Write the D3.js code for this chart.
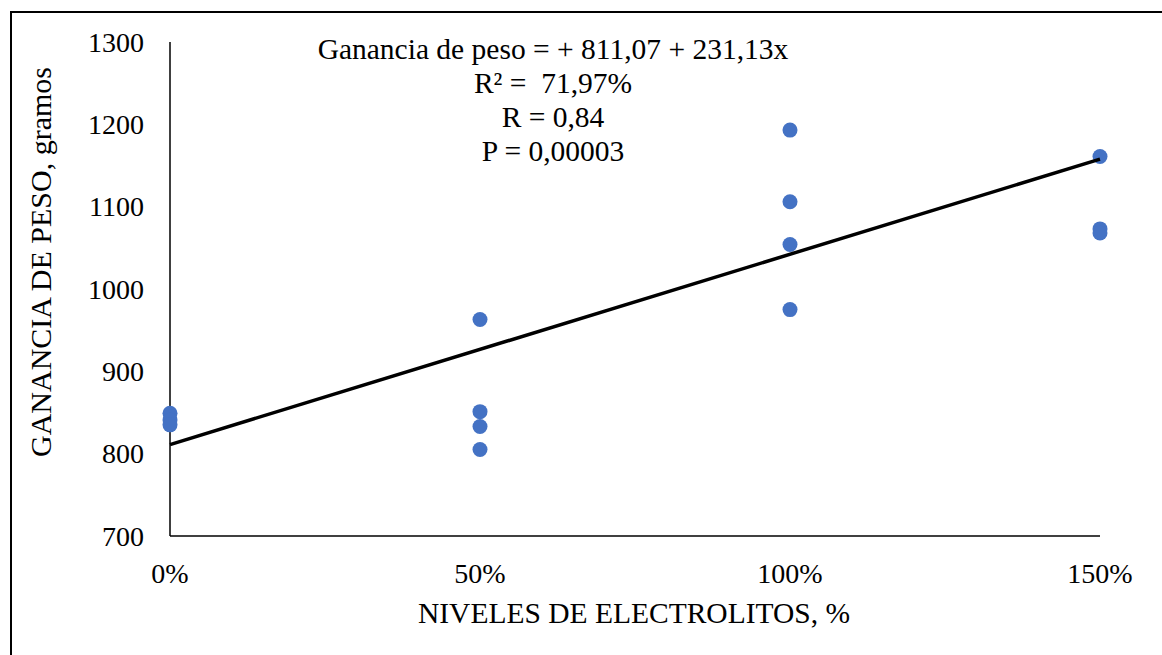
<!DOCTYPE html>
<html>
<head>
<meta charset="utf-8">
<script src="https://cdn.jsdelivr.net/npm/d3@7"></script>
<style>
  body { margin: 0; background: #fff; }
  text { font-family: "Liberation Serif", "Times New Roman", serif; fill: #000; white-space: pre; }
</style>
</head>
<body>
<svg id="chart"></svg>
<script>
// Niveles de electrolitos (fracción) y ganancia de peso (g)
const nivel = [0, 0, 0, 0.5, 0.5, 0.5, 0.5, 1, 1, 1, 1, 1.5, 1.5, 1.5];
const ganancia = [849, 841, 835, 963, 851, 833, 805, 1193, 1106, 1054, 975, 1161, 1073, 1068];

const xTicks = [0, 0.5, 1, 1.5];
const yTicks = [700, 800, 900, 1000, 1100, 1200, 1300];

// recta de regresión
const intercepto = 811.07;
const pendiente = 231.13;

const anotacion = [
  "Ganancia de peso = + 811,07 + 231,13x",
  "R² =  71,97%",
  "R = 0,84",
  "P = 0,00003"
];

const width = 1162;
const height = 655;

const svg = d3.select("#chart")
    .attr("width", width)
    .attr("height", height);

// marco
svg.append("path")
    .attr("d", `M11,${height} V12 H${width}`)
    .attr("fill", "none")
    .attr("stroke", "#000")
    .attr("stroke-width", 2);

const x = d3.scaleLinear().domain([0, 1.5]).range([170, 1100]);
const y = d3.scaleLinear().domain([700, 1300]).range([536, 42]);

// ejes
svg.append("line")
    .attr("x1", x(0)).attr("x2", x(0))
    .attr("y1", y(700)).attr("y2", y(1300))
    .attr("stroke", "#000").attr("stroke-width", 1.5);

svg.append("line")
    .attr("x1", x(0)).attr("x2", x(1.5))
    .attr("y1", y(700)).attr("y2", y(700))
    .attr("stroke", "#000").attr("stroke-width", 1.5);

svg.selectAll(".ytick")
    .data(yTicks)
    .enter()
    .append("text")
    .attr("class", "ytick")
    .attr("x", 144)
    .attr("y", d => y(d))
    .attr("dy", "0.35em")
    .attr("text-anchor", "end")
    .style("font-size", "28px")
    .text(d => d);

svg.selectAll(".xtick")
    .data(xTicks)
    .enter()
    .append("text")
    .attr("class", "xtick")
    .attr("x", d => x(d))
    .attr("y", 573)
    .attr("dy", "0.35em")
    .attr("text-anchor", "middle")
    .style("font-size", "28px")
    .text(d3.format(".0%"));

// títulos
svg.append("text")
    .attr("x", 634)
    .attr("y", 613)
    .attr("dy", "0.35em")
    .attr("text-anchor", "middle")
    .style("font-size", "29.5px")
    .text("NIVELES DE ELECTROLITOS, %");

svg.append("text")
    .attr("transform", "translate(40,262) rotate(-90)")
    .attr("dy", "0.35em")
    .attr("text-anchor", "middle")
    .style("font-size", "30px")
    .text("GANANCIA DE PESO, gramos");

// puntos
svg.selectAll("circle")
    .data(nivel.map((n, i) => [n, ganancia[i]]))
    .enter()
    .append("circle")
    .attr("cx", d => x(d[0]))
    .attr("cy", d => y(d[1]))
    .attr("r", 7.5)
    .attr("fill", "#4472c4");

// recta ajustada
svg.append("line")
    .attr("x1", x(0)).attr("y1", y(intercepto))
    .attr("x2", x(1.5)).attr("y2", y(intercepto + pendiente * 1.5))
    .attr("stroke", "#000")
    .attr("stroke-width", 3.5);

// ecuación
svg.selectAll(".anot")
    .data(anotacion)
    .enter()
    .append("text")
    .attr("class", "anot")
    .attr("x", 553)
    .attr("y", (d, i) => 49 + i * 34)
    .attr("dy", "0.35em")
    .attr("text-anchor", "middle")
    .style("font-size", "29.5px")
    .text(d => d);
</script>
</body>
</html>
